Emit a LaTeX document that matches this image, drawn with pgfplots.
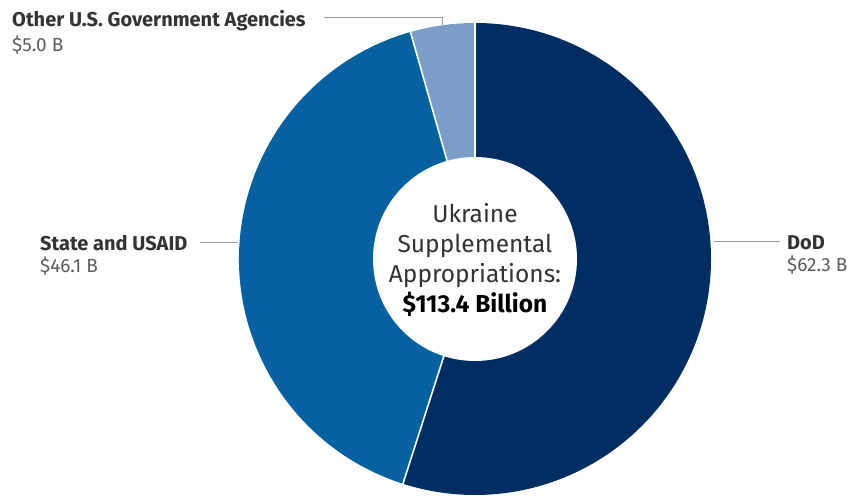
\documentclass[border=0pt]{standalone}
\usepackage{pgfplots}
\pgfplotsset{compat=1.18}
\usepackage{pgfplotstable}
\usepackage{fontspec}
\setmainfont{Fira Sans}

\definecolor{dod}{HTML}{002D62}
\definecolor{state}{HTML}{0561A0}
\definecolor{other}{HTML}{7C9DC8}
\definecolor{lbl}{HTML}{333333}
\definecolor{val}{HTML}{5C5C5C}
\definecolor{lead}{HTML}{9A9A9A}

% spending by agency, billions of dollars
\pgfplotstableread[col sep=comma]{
name,value
DoD,62.3
State,46.1
Other,5.0
}\spending

\pgfplotstablegetelem{0}{value}\of\spending \let\vA\pgfplotsretval
\pgfplotstablegetelem{1}{value}\of\spending \let\vB\pgfplotsretval
\pgfplotstablegetelem{2}{value}\of\spending \let\vC\pgfplotsretval
\pgfmathsetmacro\total{\vA+\vB+\vC}
% wedges run clockwise from the top
\pgfmathsetmacro\aA{90}
\pgfmathsetmacro\aB{\aA-360*(\vA/\total)}
\pgfmathsetmacro\aC{\aB-360*(\vB/\total)}
\pgfmathsetmacro\aD{\aC-360*(\vC/\total)}

\newcommand\namefont{\fontsize{20bp}{24bp}\selectfont\bfseries}
\newcommand\valfont{\fontsize{19bp}{24bp}\selectfont}

\begin{document}
\begin{tikzpicture}
\begin{axis}[
  scale only axis,
  width=851bp, height=498bp,
  xmin=0, xmax=851, ymin=0, ymax=498,
  hide axis,
  clip=false,
]
  % wedges
  \fill[dod]   (axis cs:475,239) -- ++(\aA:236bp) arc[start angle=\aA, end angle=\aB, radius=236bp] -- cycle;
  \fill[state] (axis cs:475,239) -- ++(\aB:236bp) arc[start angle=\aB, end angle=\aC, radius=236bp] -- cycle;
  \fill[other] (axis cs:475,239) -- ++(\aC:236bp) arc[start angle=\aC, end angle=\aD, radius=236bp] -- cycle;
  % white gaps between wedges
  \draw[white, line width=1.6bp] (axis cs:475,239) -- ++(\aA:238bp);
  \draw[white, line width=1.6bp] (axis cs:475,239) -- ++(\aB:238bp);
  \draw[white, line width=1.6bp] (axis cs:475,239) -- ++(\aC:238bp);
  % hole
  \fill[white] (axis cs:475,239) circle[radius=102bp];

  \node[align=center, text=lbl, font=\fontsize{24.5bp}{30bp}\selectfont]
    at (axis cs:475,238) {Ukraine\\Supplemental\\Appropriations:\\{\color{black}\bfseries \$113.4 Billion}};

  % leaders
  \draw[lead, line width=0.9bp] (axis cs:324,481) -- (axis cs:442,481) -- (axis cs:442,473);
  \draw[lead, line width=0.9bp] (axis cs:200,256) -- (axis cs:238,256);
  \draw[lead, line width=0.9bp] (axis cs:714,257) -- (axis cs:780,257);

  % labels
  \node[anchor=base west, inner sep=0pt, text=lbl, font=\namefont] at (axis cs:12,471) {Other U.S. Government Agencies};
  \node[anchor=base west, inner sep=0pt, text=val, font=\valfont] at (axis cs:12,446) {\$5.0 B};
  \node[anchor=base west, inner sep=0pt, text=lbl, font=\namefont] at (axis cs:40,247) {State and USAID};
  \node[anchor=base west, inner sep=0pt, text=val, font=\valfont] at (axis cs:40,225) {\$46.1 B};
  \node[anchor=base west, inner sep=0pt, text=lbl, font=\namefont] at (axis cs:787,248) {DoD};
  \node[anchor=base west, inner sep=0pt, text=val, font=\valfont] at (axis cs:787,226) {\$62.3 B};
\end{axis}
\pgfresetboundingbox
\path[use as bounding box] (0,0) rectangle (851bp,498bp);
\end{tikzpicture}
\end{document}
